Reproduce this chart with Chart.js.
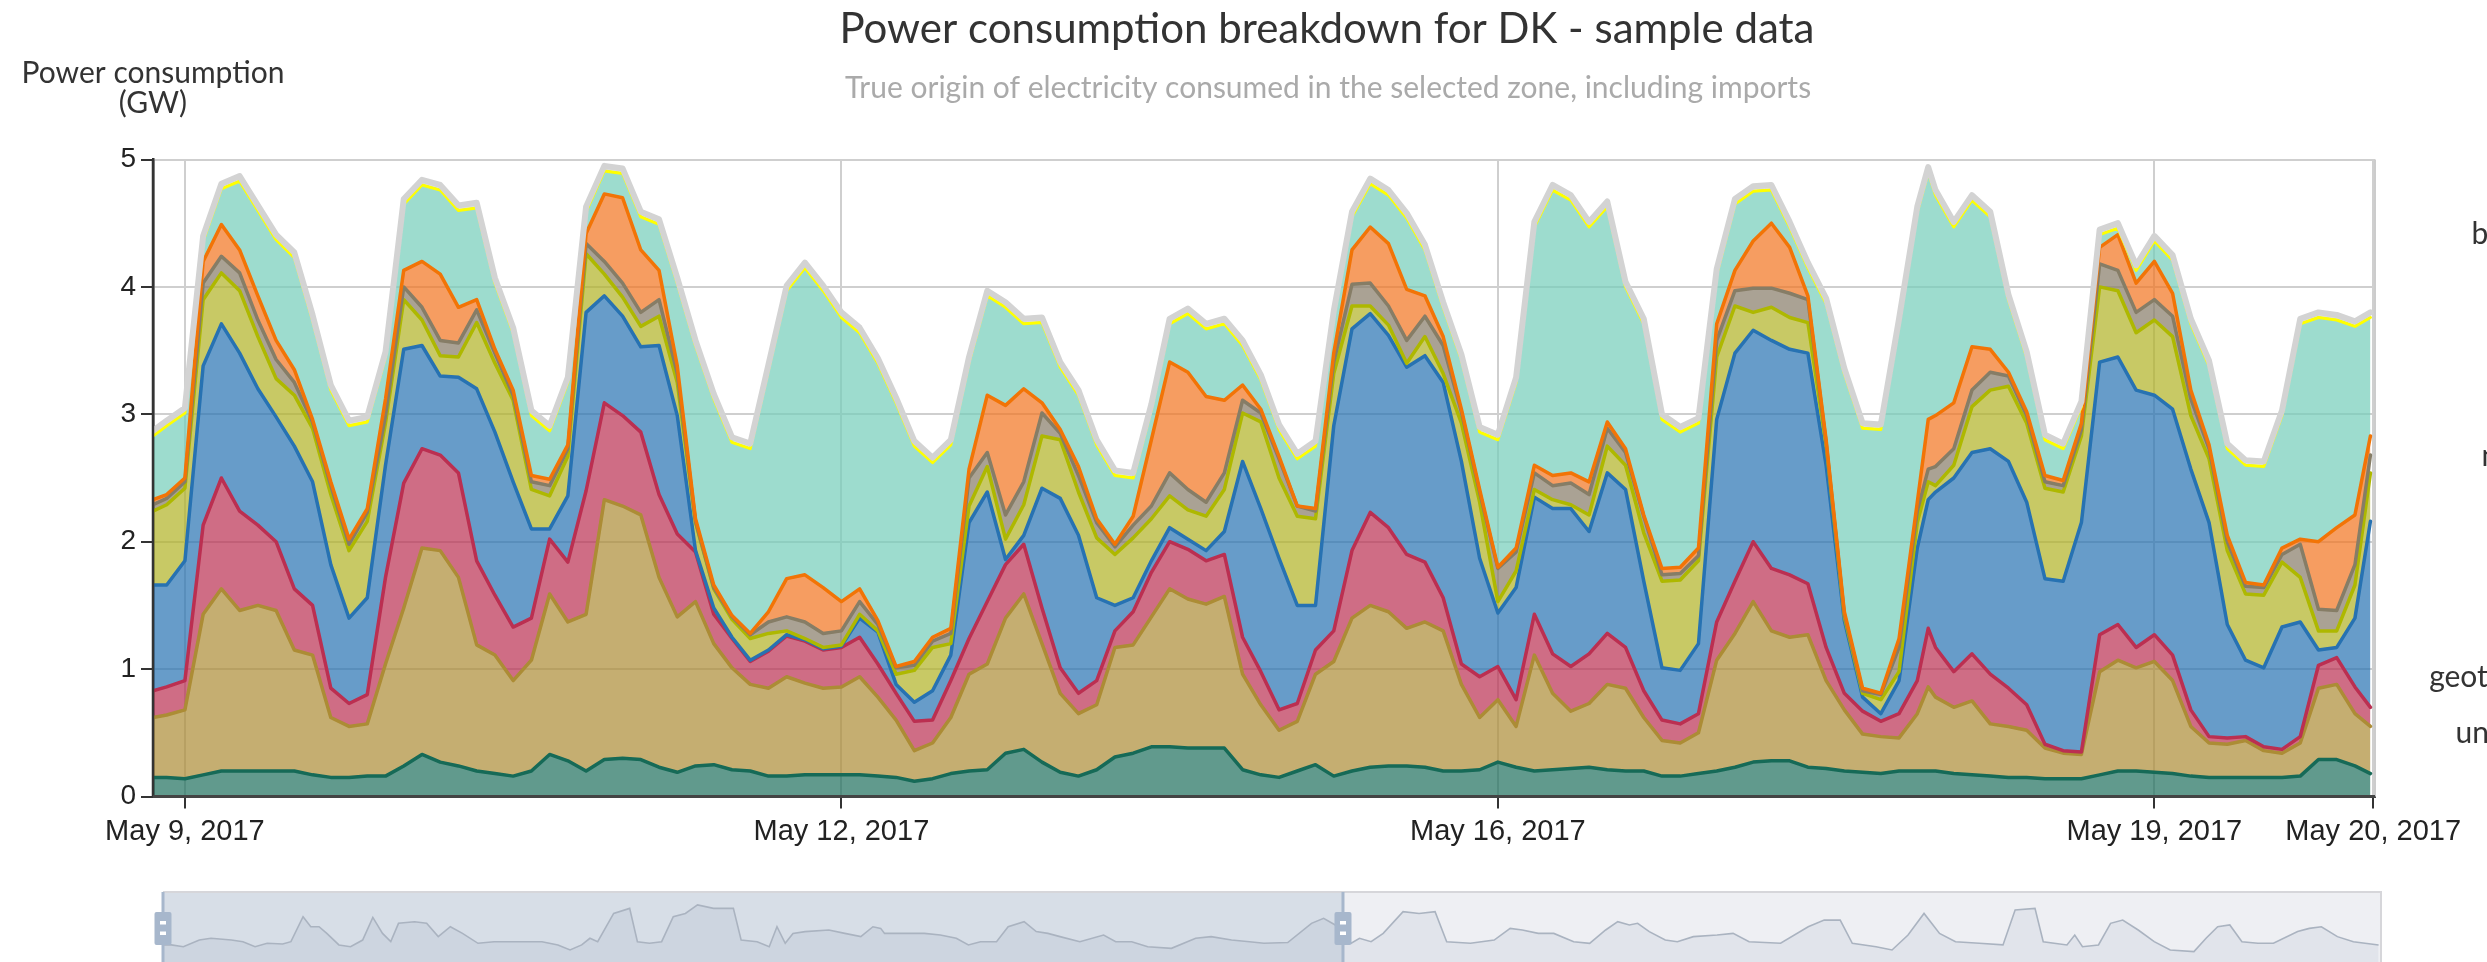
<!DOCTYPE html>
<html>
<head>
<meta charset="utf-8">
<title>Power consumption breakdown for DK - sample data</title>
<script src="https://cdn.jsdelivr.net/npm/chart.js@4.4.1/dist/chart.umd.min.js"></script>
<style>
  html, body { margin: 0; padding: 0; background: #fff; }
  #wrap { position: relative; width: 2487px; height: 962px; overflow: hidden; }
  #main { position: absolute; left: 0; top: 0; }
  #nav { position: absolute; left: 0; top: 880px; }
</style>
</head>
<body>
<div id="wrap">
  <canvas id="main" width="2487" height="962"></canvas>
  <canvas id="nav" width="2487" height="120"></canvas>
</div>
<script>
/* ============================================================
   Power consumption breakdown (stacked areas) + navigator
   Each *Top array is the upper edge of a layer.
   ============================================================ */

const TITLE = 'Power consumption breakdown for DK - sample data';
const SUBTITLE = 'True origin of electricity consumed in the selected zone, including imports';
const Y_TITLE = ['Power consumption', '(GW)'];

// hours since May 9, 2017 00:00 (axis position)
const hours = [
  -3.5, -2, 0, 2, 4, 6, 8, 10, 12, 14,
  16, 18, 20, 22, 24, 26, 28, 30, 32, 34,
  36, 38, 40, 42, 44, 46, 48, 50, 52, 54,
  56, 58, 60, 62, 64, 66, 68, 70, 72, 74,
  76, 78, 80, 82, 84, 86, 88, 90, 92, 94,
  96, 98, 100, 102, 104, 106, 108, 110, 112, 114,
  116, 118, 120, 122, 124, 126, 128, 130, 132, 134,
  136, 138, 140, 142, 144, 146, 148, 150, 152, 154,
  156, 158, 160, 162, 164, 166, 168, 170, 172, 174,
  176, 178, 180, 182, 184, 186, 188, 190, 191.2,
  192, 194, 196, 198, 200, 202, 204, 206, 208, 210, 212, 214,
  216, 218, 220, 222, 224, 226, 228, 230, 232, 234, 236, 238, 239.7
];

const tickHours = [0, 72, 144, 216, 240];
const tickLabels = ['May 9, 2017', 'May 12, 2017', 'May 16, 2017', 'May 19, 2017', 'May 20, 2017'];
const sources = ['biomass', 'coal', 'gas', 'hydro', 'nuclear', 'oil', 'solar', 'wind', 'geothermal', 'unknown'];

const biomassTop = [
  0.15, 0.15, 0.14, 0.17, 0.20, 0.20, 0.20, 0.20, 0.20, 0.17,
  0.15, 0.15, 0.16, 0.16, 0.24, 0.33, 0.27, 0.24, 0.20, 0.18,
  0.16, 0.20, 0.33, 0.28, 0.20, 0.29, 0.30, 0.29, 0.23, 0.19,
  0.24, 0.25, 0.21, 0.20, 0.16, 0.16, 0.17, 0.17, 0.17, 0.17,
  0.16, 0.15, 0.12, 0.14, 0.18, 0.20, 0.21, 0.34, 0.37, 0.27,
  0.19, 0.16, 0.21, 0.31, 0.34, 0.39, 0.39, 0.38, 0.38, 0.38,
  0.21, 0.17, 0.15, 0.20, 0.25, 0.16, 0.20, 0.23, 0.24, 0.24,
  0.23, 0.20, 0.20, 0.21, 0.27, 0.23, 0.20, 0.21, 0.22, 0.23,
  0.21, 0.20, 0.20, 0.16, 0.16, 0.18, 0.20, 0.23, 0.27, 0.28,
  0.28, 0.23, 0.22, 0.20, 0.19, 0.18, 0.20, 0.20, 0.20,
  0.20, 0.18, 0.17, 0.16, 0.15, 0.15, 0.14, 0.14, 0.14, 0.17, 0.20, 0.20,
  0.19, 0.18, 0.16, 0.15, 0.15, 0.15, 0.15, 0.15, 0.16, 0.29, 0.29, 0.24, 0.18
];
const coalTop = [
  0.62, 0.64, 0.68, 1.43, 1.63, 1.46, 1.50, 1.46, 1.15, 1.11,
  0.62, 0.55, 0.57, 1.04, 1.48, 1.95, 1.93, 1.72, 1.19, 1.11,
  0.91, 1.07, 1.59, 1.37, 1.43, 2.33, 2.28, 2.21, 1.72, 1.41,
  1.53, 1.20, 1.01, 0.88, 0.85, 0.94, 0.89, 0.85, 0.86, 0.94,
  0.78, 0.60, 0.36, 0.42, 0.62, 0.96, 1.04, 1.40, 1.59, 1.20,
  0.81, 0.65, 0.72, 1.17, 1.19, 1.41, 1.63, 1.55, 1.51, 1.57,
  0.96, 0.72, 0.52, 0.59, 0.96, 1.06, 1.40, 1.50, 1.45, 1.32,
  1.37, 1.30, 0.88, 0.62, 0.76, 0.55, 1.11, 0.81, 0.67, 0.73,
  0.88, 0.85, 0.62, 0.44, 0.42, 0.50, 1.07, 1.28, 1.53, 1.30,
  1.25, 1.27, 0.91, 0.68, 0.49, 0.47, 0.46, 0.65, 0.86,
  0.78, 0.70, 0.75, 0.57, 0.55, 0.52, 0.38, 0.34, 0.33, 0.98, 1.07, 1.01,
  1.06, 0.91, 0.55, 0.42, 0.41, 0.44, 0.36, 0.34, 0.42, 0.85, 0.88, 0.65, 0.55
];
const gasTop = [
  0.83, 0.86, 0.91, 2.13, 2.50, 2.24, 2.13, 2.00, 1.63, 1.50,
  0.85, 0.73, 0.80, 1.72, 2.46, 2.73, 2.68, 2.54, 1.85, 1.58,
  1.33, 1.40, 2.02, 1.84, 2.40, 3.09, 2.99, 2.86, 2.37, 2.06,
  1.92, 1.43, 1.24, 1.06, 1.14, 1.26, 1.22, 1.15, 1.17, 1.25,
  1.04, 0.81, 0.59, 0.60, 0.91, 1.24, 1.53, 1.82, 1.98, 1.48,
  1.01, 0.81, 0.91, 1.30, 1.45, 1.76, 2.00, 1.94, 1.85, 1.90,
  1.25, 0.98, 0.68, 0.73, 1.15, 1.30, 1.93, 2.23, 2.11, 1.90,
  1.84, 1.56, 1.04, 0.94, 1.02, 0.76, 1.43, 1.12, 1.02, 1.12,
  1.28, 1.17, 0.83, 0.60, 0.57, 0.65, 1.37, 1.69, 2.00, 1.79,
  1.74, 1.67, 1.17, 0.81, 0.67, 0.59, 0.65, 0.91, 1.32,
  1.17, 0.98, 1.12, 0.96, 0.85, 0.72, 0.41, 0.36, 0.35, 1.27, 1.35, 1.17,
  1.27, 1.11, 0.68, 0.47, 0.46, 0.47, 0.39, 0.37, 0.47, 1.03, 1.09, 0.86, 0.70
];
const hydroTop = [
  1.66, 1.66, 1.85, 3.38, 3.71, 3.48, 3.20, 2.98, 2.75, 2.47,
  1.82, 1.40, 1.56, 2.60, 3.51, 3.54, 3.30, 3.29, 3.20, 2.86,
  2.47, 2.10, 2.10, 2.36, 3.80, 3.93, 3.77, 3.53, 3.54, 2.99,
  1.93, 1.48, 1.25, 1.07, 1.15, 1.27, 1.23, 1.16, 1.18, 1.40,
  1.29, 0.88, 0.74, 0.83, 1.11, 2.15, 2.39, 1.86, 2.05, 2.42,
  2.34, 2.05, 1.56, 1.50, 1.56, 1.85, 2.11, 2.02, 1.93, 2.08,
  2.63, 2.26, 1.87, 1.50, 1.50, 2.91, 3.67, 3.79, 3.62, 3.37,
  3.46, 3.25, 2.63, 1.87, 1.44, 1.64, 2.35, 2.26, 2.26, 2.08,
  2.54, 2.41, 1.69, 1.01, 0.99, 1.20, 2.96, 3.48, 3.66, 3.58,
  3.51, 3.48, 2.60, 1.38, 0.78, 0.65, 0.91, 1.95, 2.33,
  2.39, 2.50, 2.70, 2.73, 2.63, 2.31, 1.71, 1.69, 2.15, 3.41, 3.45, 3.19,
  3.15, 3.04, 2.57, 2.15, 1.35, 1.07, 1.01, 1.33, 1.37, 1.15, 1.17, 1.40, 2.16
];
const nuclearTop = [
  2.24, 2.29, 2.42, 3.90, 4.11, 3.97, 3.61, 3.28, 3.15, 2.89,
  2.37, 1.93, 2.16, 2.93, 3.90, 3.74, 3.46, 3.45, 3.72, 3.40,
  3.11, 2.41, 2.36, 2.67, 4.26, 4.10, 3.92, 3.69, 3.77, 3.25,
  2.15, 1.63, 1.39, 1.24, 1.28, 1.30, 1.24, 1.17, 1.19, 1.43,
  1.30, 0.96, 0.99, 1.17, 1.20, 2.28, 2.59, 2.02, 2.29, 2.83,
  2.80, 2.39, 2.03, 1.90, 2.03, 2.18, 2.36, 2.25, 2.20, 2.41,
  3.01, 2.94, 2.50, 2.20, 2.18, 3.32, 3.85, 3.85, 3.70, 3.40,
  3.61, 3.32, 2.93, 2.31, 1.53, 1.77, 2.41, 2.33, 2.29, 2.21,
  2.75, 2.60, 2.07, 1.69, 1.70, 1.85, 3.45, 3.85, 3.80, 3.84,
  3.76, 3.72, 2.76, 1.41, 0.81, 0.76, 0.98, 2.15, 2.47,
  2.44, 2.60, 3.06, 3.19, 3.22, 2.93, 2.42, 2.39, 2.83, 4.00, 3.97, 3.64,
  3.74, 3.61, 2.99, 2.65, 1.93, 1.59, 1.58, 1.84, 1.72, 1.30, 1.30, 1.66, 2.54
];
const oilTop = [
  2.29, 2.34, 2.47, 4.03, 4.24, 4.11, 3.74, 3.43, 3.25, 2.94,
  2.44, 1.98, 2.23, 2.99, 4.00, 3.84, 3.58, 3.56, 3.82, 3.48,
  3.15, 2.47, 2.44, 2.73, 4.34, 4.20, 4.03, 3.80, 3.90, 3.32,
  2.16, 1.64, 1.41, 1.27, 1.37, 1.41, 1.37, 1.28, 1.30, 1.53,
  1.35, 1.01, 1.03, 1.22, 1.28, 2.50, 2.70, 2.21, 2.47, 3.01,
  2.85, 2.52, 2.15, 1.96, 2.13, 2.28, 2.54, 2.41, 2.31, 2.54,
  3.11, 3.01, 2.65, 2.28, 2.24, 3.41, 4.02, 4.03, 3.85, 3.58,
  3.77, 3.54, 3.02, 2.39, 1.79, 1.92, 2.54, 2.44, 2.46, 2.37,
  2.89, 2.70, 2.20, 1.74, 1.75, 1.89, 3.58, 3.97, 3.99, 3.99,
  3.95, 3.90, 2.78, 1.43, 0.83, 0.80, 1.17, 2.24, 2.57,
  2.59, 2.73, 3.19, 3.33, 3.30, 2.99, 2.47, 2.44, 2.88, 4.18, 4.13, 3.80,
  3.90, 3.77, 3.12, 2.73, 2.00, 1.65, 1.64, 1.90, 1.98, 1.47, 1.46, 1.82, 2.68
];
const solarTop = [
  2.33, 2.37, 2.50, 4.20, 4.49, 4.29, 3.93, 3.58, 3.35, 2.96,
  2.47, 2.02, 2.26, 3.12, 4.13, 4.20, 4.10, 3.84, 3.90, 3.51,
  3.19, 2.52, 2.49, 2.76, 4.42, 4.73, 4.70, 4.29, 4.13, 3.38,
  2.18, 1.66, 1.42, 1.28, 1.45, 1.71, 1.74, 1.64, 1.53, 1.63,
  1.38, 1.02, 1.06, 1.25, 1.32, 2.57, 3.15, 3.07, 3.20, 3.09,
  2.88, 2.59, 2.18, 1.98, 2.20, 2.80, 3.41, 3.33, 3.14, 3.11,
  3.23, 3.04, 2.67, 2.28, 2.26, 3.48, 4.29, 4.47, 4.34, 3.98,
  3.93, 3.61, 3.04, 2.41, 1.80, 1.95, 2.60, 2.52, 2.54, 2.47,
  2.94, 2.73, 2.21, 1.79, 1.80, 1.95, 3.71, 4.13, 4.36, 4.50,
  4.31, 3.93, 2.80, 1.45, 0.85, 0.81, 1.24, 2.31, 2.96,
  2.99, 3.09, 3.53, 3.51, 3.33, 3.02, 2.52, 2.48, 2.93, 4.31, 4.41, 4.03,
  4.20, 3.95, 3.19, 2.76, 2.05, 1.68, 1.66, 1.95, 2.02, 2.00, 2.11, 2.21, 2.83
];
const windTop = [
  2.83, 2.91, 3.01, 4.36, 4.77, 4.83, 4.60, 4.37, 4.23, 3.74,
  3.19, 2.91, 2.94, 3.45, 4.65, 4.80, 4.76, 4.60, 4.62, 4.03,
  3.64, 2.99, 2.87, 3.25, 4.59, 4.91, 4.89, 4.55, 4.49, 4.03,
  3.54, 3.12, 2.78, 2.73, 3.35, 3.97, 4.15, 3.97, 3.76, 3.64,
  3.40, 3.09, 2.75, 2.62, 2.76, 3.41, 3.93, 3.84, 3.71, 3.72,
  3.37, 3.15, 2.76, 2.52, 2.50, 3.04, 3.71, 3.79, 3.67, 3.71,
  3.54, 3.27, 2.88, 2.65, 2.75, 3.77, 4.55, 4.81, 4.72, 4.54,
  4.29, 3.84, 3.43, 2.86, 2.80, 3.25, 4.47, 4.76, 4.68, 4.47,
  4.63, 4.00, 3.71, 2.96, 2.86, 2.93, 4.10, 4.65, 4.75, 4.76,
  4.47, 4.15, 3.87, 3.32, 2.89, 2.88, 3.71, 4.59, 4.90,
  4.72, 4.47, 4.68, 4.55, 3.90, 3.45, 2.80, 2.73, 3.06, 4.41, 4.46, 4.13,
  4.36, 4.21, 3.71, 3.38, 2.73, 2.60, 2.59, 2.99, 3.71, 3.76, 3.74, 3.69, 3.76
];
// geothermal is a hairline on top of wind, so its upper edge is windTop
const unknownTop = [
  2.87, 2.95, 3.05, 4.40, 4.81, 4.87, 4.64, 4.41, 4.27, 3.78,
  3.23, 2.95, 2.98, 3.49, 4.69, 4.84, 4.80, 4.64, 4.66, 4.07,
  3.68, 3.03, 2.91, 3.29, 4.63, 4.95, 4.93, 4.59, 4.53, 4.07,
  3.58, 3.16, 2.82, 2.77, 3.39, 4.01, 4.19, 4.01, 3.80, 3.68,
  3.44, 3.13, 2.79, 2.66, 2.80, 3.45, 3.97, 3.88, 3.75, 3.76,
  3.41, 3.19, 2.80, 2.56, 2.54, 3.08, 3.75, 3.83, 3.71, 3.75,
  3.58, 3.31, 2.92, 2.69, 2.79, 3.81, 4.59, 4.85, 4.76, 4.58,
  4.33, 3.88, 3.47, 2.90, 2.84, 3.29, 4.51, 4.80, 4.72, 4.51,
  4.67, 4.04, 3.75, 3.00, 2.90, 2.97, 4.14, 4.69, 4.79, 4.80,
  4.51, 4.19, 3.91, 3.36, 2.93, 2.92, 3.75, 4.63, 4.94,
  4.76, 4.51, 4.72, 4.59, 3.94, 3.49, 2.84, 2.77, 3.10, 4.45, 4.50, 4.17,
  4.40, 4.25, 3.75, 3.42, 2.77, 2.64, 2.63, 3.03, 3.75, 3.80, 3.78, 3.73, 3.80
];

// navigator: total over the whole sample period (same hour units)
const miniHours = [
  -3.4, -1.8, 0.7, 4.0, 6.4, 10.6, 13.0, 15.5, 18.0, 21.2,
  22.9, 25.4, 27.0, 28.7, 30.3, 32.8, 35.2, 37.7, 39.8, 41.8,
  43.5, 45.1, 48.4, 50.9, 53.3, 55.8, 58.3, 61.5, 64.8, 69.8,
  74.7, 78.0, 80.5, 82.9, 84.6, 86.2, 89.5, 92.8, 94.4, 96.9,
  99.4, 101.8, 104.3, 106.8, 110.1, 114.2, 115.8, 119.1, 121.6, 123.2,
  124.9, 126.5, 129.0, 133.9, 137.2, 140.5, 143.0, 144.6, 145.4, 150.4,
  153.6, 156.9, 160.2, 162.7, 165.2, 168.5, 170.9, 174.2, 176.7, 179.1,
  181.6, 185.7, 190.6, 193.1, 196.4, 199.7, 204.6, 209.6, 212.8, 217.0,
  220.7, 223.7, 228.6, 233.5, 236.0, 238.4, 241.7, 243.4, 245.8, 248.3,
  252.4, 255.7, 259.0, 261.4, 266.3, 271.2, 274.5, 277.0, 280.3, 283.5,
  287.6, 290.9, 294.2, 296.7, 299.1, 300.8, 303.2, 306.5, 309.0, 312.3,
  317.2, 320.5, 323.8, 330.3, 336.0, 339.3, 342.6, 345.1, 350.0, 353.3,
  356.6, 359.9, 363.1, 366.4, 371.3, 376.2, 378.7, 382.8, 384.5, 389.4,
  391.0, 392.6, 395.9, 398.4, 400.9, 404.1, 407.4, 410.7, 415.6, 418.1,
  420.5, 423.0, 425.5, 428.8, 432.0, 437.0, 439.4, 441.9, 445.2, 448.5,
  453.7
];
const miniTotal = [
  3.06, 3.06, 2.96, 3.33, 3.43, 3.33, 3.24, 2.96, 3.15, 3.11,
  3.24, 4.63, 4.07, 4.07, 3.70, 3.06, 2.96, 3.33, 4.59, 3.70,
  3.24, 4.26, 4.35, 4.26, 3.52, 4.07, 3.70, 3.15, 3.24, 3.24,
  3.24, 3.06, 2.78, 3.06, 3.43, 3.24, 4.81, 5.09, 3.24, 3.15,
  3.24, 4.63, 4.81, 5.28, 5.09, 5.09, 3.33, 3.24, 2.96, 4.07,
  3.15, 3.70, 3.80, 3.89, 3.70, 3.52, 4.07, 3.98, 3.70, 3.70,
  3.70, 3.61, 3.43, 3.06, 3.24, 3.24, 4.07, 4.35, 3.80, 3.70,
  3.52, 3.24, 3.61, 3.24, 3.24, 2.96, 2.87, 3.43, 3.52, 3.33,
  3.24, 3.15, 3.19, 4.26, 4.54, 4.17, 3.15, 3.43, 3.24, 3.70,
  4.91, 4.81, 4.91, 3.24, 3.15, 3.33, 3.98, 3.89, 3.70, 3.70,
  3.24, 3.15, 3.89, 4.35, 4.17, 4.26, 3.80, 3.33, 3.24, 3.52,
  3.61, 3.70, 3.24, 3.15, 4.07, 4.44, 4.44, 3.15, 2.96, 2.78,
  3.61, 4.81, 3.70, 3.24, 3.15, 3.06, 5.00, 5.09, 3.24, 3.06,
  3.61, 2.96, 3.06, 4.26, 4.44, 3.89, 3.24, 2.78, 2.69, 3.43,
  4.07, 4.17, 3.24, 3.15, 3.15, 3.80, 3.98, 4.07, 3.52, 3.24,
  3.06
];
const selectionHours = [-3.5, 240];

(function () {
  'use strict';

  const FONTE_EIXO = "'Liberation Sans', Arial, sans-serif";
  const FONTE_TEXTO = "Lato, 'Open Sans', sans-serif";
  const TEXTO = '#333333';
  const GRADE = '#cfcfcf';

  // layer styles, bottom to top
  const camadas = [
    { data: biomassTop, stroke: '#166a57', fill: 'rgba(22,106,87,0.68)' },
    { data: coalTop, stroke: '#ac8c35', fill: 'rgba(172,140,53,0.7)' },
    { data: gasTop, stroke: '#bb2f51', fill: 'rgba(187,47,81,0.7)' },
    { data: hydroTop, stroke: '#2772b2', fill: 'rgba(39,114,178,0.7)' },
    { data: nuclearTop, stroke: '#aeb800', fill: 'rgba(176,178,36,0.7)' },
    { data: oilTop, stroke: '#867d66', fill: 'rgba(134,122,102,0.7)' },
    { data: solarTop, stroke: '#f27406', fill: 'rgba(242,116,30,0.7)' },
    { data: windTop, stroke: '#74cdb9', fill: 'rgba(116,205,185,0.7)', width: 2 },
    { data: windTop, stroke: '#ffff00', fill: 'rgba(255,255,0,0.7)', width: 3 },
    { data: unknownTop, stroke: '#d3d3d3', fill: 'rgba(211,211,211,0.7)', width: 6 }
  ];

  const datasets = camadas.map(function (c, i) {
    return {
      label: sources[i],
      data: c.data,
      borderColor: c.stroke,
      backgroundColor: c.fill,
      borderWidth: c.width || 3.5,
      fill: i === 0 ? 'origin' : '-1',
      order: camadas.length - i,
      pointRadius: 0,
      tension: 0
    };
  });

  const textos = {
    id: 'textos',
    afterDraw: function (chart) {
      const ctx = chart.ctx;
      const area = chart.chartArea;
      ctx.save();
      ctx.textBaseline = 'alphabetic';
      ctx.textAlign = 'center';
      ctx.fillStyle = TEXTO;
      ctx.font = '42px ' + FONTE_TEXTO;
      ctx.fillText(TITLE, 1327, 43);
      ctx.fillStyle = '#aaaaaa';
      ctx.font = '30px ' + FONTE_TEXTO;
      ctx.fillText(SUBTITLE, 1328, 98);
      ctx.fillStyle = TEXTO;
      ctx.font = '30px ' + FONTE_TEXTO;
      ctx.fillText(Y_TITLE[0], area.left, 83);
      ctx.fillText(Y_TITLE[1], area.left, 113);
      // legend column, right aligned, mostly past the window edge
      ctx.textAlign = 'right';
      ctx.font = '30px ' + FONTE_TEXTO;
      sources.forEach(function (s, k) { ctx.fillText(s, 2578, 244 + 55.4 * k); });
      ctx.restore();
    }
  };

  const moldura = {
    id: 'moldura',
    afterDatasetsDraw: function (chart) {
      const ctx = chart.ctx;
      const a = chart.chartArea;
      ctx.save();
      ctx.strokeStyle = '#cccccc';
      ctx.lineWidth = 2;
      ctx.beginPath(); ctx.moveTo(a.right, a.top); ctx.lineTo(a.right, a.bottom); ctx.stroke();
      ctx.strokeStyle = '#333333';
      ctx.lineWidth = 2.5;
      ctx.beginPath(); ctx.moveTo(a.left, a.top); ctx.lineTo(a.left, a.bottom); ctx.stroke();
      ctx.strokeStyle = '#444444';
      ctx.lineWidth = 3;
      ctx.beginPath(); ctx.moveTo(a.left, a.bottom); ctx.lineTo(a.right, a.bottom); ctx.stroke();
      ctx.restore();
    }
  };

  new Chart(document.getElementById('main'), {
    type: 'line',
    data: { labels: hours, datasets: datasets },
    options: {
      responsive: false,
      animation: false,
      layout: { padding: { top: 159.5, right: 112, left: 0, bottom: 0 } },
      plugins: {
        legend: { display: false },
        tooltip: { enabled: false },
        filler: { drawTime: 'beforeDatasetsDraw' }
      },
      elements: { line: { borderJoinStyle: 'round', borderCapStyle: 'round' } },
      scales: {
        x: {
          type: 'linear', min: -3.5, max: 240.2,
          afterBuildTicks: function (s) { s.ticks = tickHours.map(function (v) { return { value: v }; }); },
          afterFit: function (s) { s.height = 165.5; },
          ticks: {
            autoSkip: false, maxRotation: 0, padding: 6, color: '#222222',
            font: { family: FONTE_EIXO, size: 29 },
            callback: function (v, i) { return tickLabels[i]; }
          },
          grid: { color: GRADE, lineWidth: 2, tickColor: '#333333', tickLength: 12, tickWidth: 2 },
          border: { color: '#444444', width: 3 }
        },
        y: {
          min: 0, max: 5,
          afterFit: function (s) { s.width = 153; },
          ticks: { stepSize: 1, padding: 5, color: '#222222', font: { family: FONTE_EIXO, size: 28 } },
          grid: { color: GRADE, lineWidth: 2, tickColor: '#333333', tickLength: 12, tickWidth: 2 },
          border: { color: '#333333', width: 2.5 }
        }
      }
    },
    plugins: [textos, moldura]
  });

  // navigator strip under the chart
  const navegador = {
    id: 'navegador',
    beforeDatasetsDraw: function (chart) {
      const ctx = chart.ctx;
      const a = chart.chartArea;
      const x = chart.scales.x;
      const x0 = x.getPixelForValue(selectionHours[0]);
      const x1 = x.getPixelForValue(selectionHours[1]);
      ctx.save();
      ctx.fillStyle = '#eeeff3';
      ctx.fillRect(a.left, a.top, a.right - a.left, a.bottom - a.top);
      ctx.fillStyle = '#d7dee7';
      ctx.fillRect(x0, a.top, x1 - x0, a.bottom - a.top);
      ctx.restore();
    },
    afterDatasetsDraw: function (chart) {
      const ctx = chart.ctx;
      const a = chart.chartArea;
      const x = chart.scales.x;
      ctx.save();
      ctx.strokeStyle = '#d6d6da';
      ctx.lineWidth = 2;
      ctx.beginPath();
      ctx.moveTo(a.left, a.top); ctx.lineTo(a.right, a.top); ctx.lineTo(a.right, a.bottom);
      ctx.stroke();
      selectionHours.forEach(function (h) {
        const px = x.getPixelForValue(h);
        ctx.strokeStyle = '#a7b7cc';
        ctx.lineWidth = 3;
        ctx.beginPath(); ctx.moveTo(px, a.top); ctx.lineTo(px, a.bottom); ctx.stroke();
        ctx.fillStyle = '#a7b7cc';
        ctx.beginPath();
        ctx.roundRect(px - 8.5, 32, 17, 33, 2);
        ctx.fill();
        ctx.fillStyle = '#ffffff';
        ctx.fillRect(px - 3, 41, 6, 3.5);
        ctx.fillRect(px - 3, 51.5, 6, 3.5);
      });
      ctx.restore();
    }
  };

  new Chart(document.getElementById('nav'), {
    type: 'line',
    data: {
      labels: miniHours,
      datasets: [{
        data: miniTotal,
        borderColor: '#aab3c0',
        borderWidth: 1.6,
        backgroundColor: 'rgba(120,140,170,0.10)',
        fill: 'origin',
        pointRadius: 0,
        tension: 0
      }]
    },
    options: {
      responsive: false,
      animation: false,
      layout: { padding: { left: 163, right: 106, top: 12, bottom: 0 } },
      plugins: { legend: { display: false }, tooltip: { enabled: false } },
      scales: {
        x: { type: 'linear', display: false, min: -3.5, max: 454.2 },
        y: { display: false, min: 0, max: 6 }
      }
    },
    plugins: [navegador]
  });
})();
</script>
</body>
</html>
